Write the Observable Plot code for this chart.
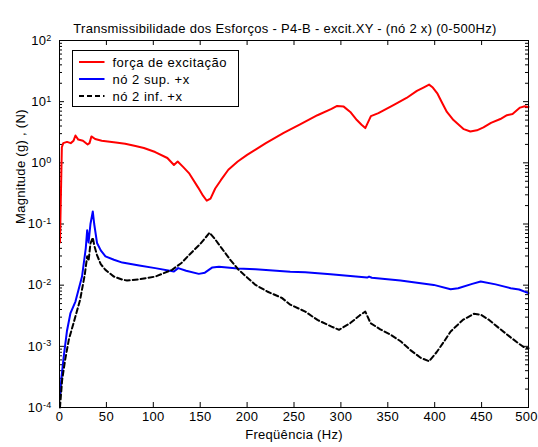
<!DOCTYPE html>
<html>
<head>
<meta charset="utf-8">
<script src="https://cdn.jsdelivr.net/npm/d3@7"></script>
<script src="https://cdn.jsdelivr.net/npm/@observablehq/plot@0.6"></script>
<style>
  html, body { margin: 0; padding: 0; background: #fff; }
  #chart svg { display: block; }
</style>
</head>
<body>
<div id="chart"></div>
<script>
// ---- data ----
const titleText = "Transmissibilidade dos Esforços - P4-B - excit.XY - (nó 2 x) (0-500Hz)";
const xLabel = "Freqüência (Hz)";
const yLabel = "Magnitude (g) , (N)";
const seriesNames = ["força de excitação", "nó 2 sup. +x", "nó 2 inf. +x"];
const xTickValues = [0, 50, 100, 150, 200, 250, 300, 350, 400, 450, 500];
const yExponents = [-4, -3, -2, -1, 0, 1, 2];

const freqRed = [0.5, 1.5, 2.5, 4, 8, 12, 15, 17, 20, 25, 30, 32, 34, 38, 45, 60, 70, 81, 90, 102, 115, 122, 126, 132, 138, 148, 153, 157, 161, 166, 172, 180, 190, 200, 209, 220, 239, 257, 275, 290, 296, 303, 310, 317, 322, 326, 328, 332, 340, 356, 370, 381, 388, 394, 398, 403, 408, 413, 420, 431, 438, 445, 452, 460, 470, 477, 483, 491, 496, 500];
const magRed = [0.05, 0.3, 1.8, 2.1, 2.2, 2.1, 2.3, 2.8, 2.4, 2.3, 2.0, 2.1, 2.7, 2.45, 2.3, 2.15, 2.05, 1.88, 1.75, 1.5, 1.2, 0.92, 1.05, 0.85, 0.68, 0.39, 0.29, 0.24, 0.26, 0.38, 0.52, 0.77, 1.05, 1.35, 1.65, 2.1, 3.1, 4.3, 6.0, 7.6, 8.5, 8.3, 6.8, 5.0, 4.2, 3.7, 4.3, 5.8, 6.5, 8.8, 11.5, 15.0, 17, 19, 17, 13.5, 9.5, 6.8, 5.0, 3.55, 3.25, 3.4, 3.8, 4.5, 5.2, 6.0, 6.3, 8.0, 8.4, 8.2];

const freqSup = [0.5, 2, 4.6, 8, 11.7, 17, 24, 28, 29.5, 31, 33, 35.5, 37, 40, 44, 49, 58, 67, 85, 102, 122, 126.5, 135, 148.5, 155, 163, 170, 190, 209, 246, 262, 289, 328, 330, 333, 363.5, 399, 417, 425, 440, 449, 465, 481, 490, 500];
const magSup = [1.5e-4, 3e-4, 7e-4, 1.8e-3, 3.5e-3, 5.4e-3, 0.0138, 0.04, 0.079, 0.05, 0.1, 0.16, 0.1, 0.049, 0.037, 0.0296, 0.026, 0.0234, 0.021, 0.019, 0.0167, 0.019, 0.0172, 0.0153, 0.016, 0.0195, 0.020, 0.0188, 0.0182, 0.0165, 0.0163, 0.0151, 0.0133, 0.0138, 0.0132, 0.0119, 0.0101, 0.0086, 0.0089, 0.0105, 0.0115, 0.0103, 0.0089, 0.0085, 0.0074];

const freqInf = [0.5, 2.8, 6, 10, 15, 22, 27, 29.5, 31, 33, 35.5, 37, 40, 44, 49, 58, 67, 72, 85, 102, 120, 130, 138, 150, 160, 166, 173, 182, 191, 209, 222, 237, 246, 262, 275, 290, 298, 310, 320, 326, 331.6, 342, 353, 364, 374, 385, 394, 402, 410, 417, 430, 441.7, 449, 458, 466.6, 481, 490, 496, 500];
const magInf = [1e-4, 2.8e-4, 6e-4, 1.3e-3, 2.4e-3, 5.8e-3, 0.015, 0.0296, 0.025, 0.048, 0.06, 0.045, 0.031, 0.022, 0.0178, 0.0138, 0.0123, 0.0119, 0.0125, 0.0138, 0.0178, 0.023, 0.031, 0.047, 0.072, 0.056, 0.040, 0.026, 0.0178, 0.0101, 0.0078, 0.0062, 0.0048, 0.0037, 0.0027, 0.0021, 0.00186, 0.0024, 0.0032, 0.0037, 0.0024, 0.0019, 0.00155, 0.0012, 0.00087, 0.00065, 0.00057, 0.0008, 0.0012, 0.00175, 0.0027, 0.0034, 0.0033, 0.0027, 0.0021, 0.0014, 0.0011, 0.00095, 0.00093];

// ---- build tables ----
const toRows = (fs, ms) => fs.map((f, i) => ({f, m: ms[i]}));
const red = toRows(freqRed, magRed);
const sup = toRows(freqSup, magSup);
const inf = toRows(freqInf, magInf);

const yMajor = yExponents.map(e => Math.pow(10, e));
const yMinor = [];
yExponents.slice(0, -1).forEach(e => { for (let k = 2; k <= 9; k++) yMinor.push(k * Math.pow(10, e)); });

const W = 538, H = 447;
const mT = 40, mB = 40, mL = 59, mR = 10;
const innerH = H - mT - mB, innerW = W - mL - mR;
const FONT = "'Liberation Sans', Arial, Helvetica, sans-serif";
const major = 5, minor = 3;
const xInner = xTickValues.slice(0, -1);
const xLast = xTickValues.slice(-1);

const svg = Plot.plot({
  width: W, height: H,
  marginTop: mT, marginBottom: mB, marginLeft: mL, marginRight: mR,
  style: {fontFamily: FONT, fontSize: "13px", background: "#fff", color: "#000", letterSpacing: "0.3px"},
  x: {domain: [0, 500], axis: null},
  y: {type: "log", domain: [1e-4, 1e2], axis: null},
  marks: [
    // inward ticks, bottom & top
    Plot.tickX(xTickValues, {x: d => d, insetTop: innerH - major, stroke: "#000"}),
    Plot.tickX(xTickValues, {x: d => d, insetBottom: innerH - major, stroke: "#000"}),
    // inward ticks, left & right
    Plot.tickY(yMajor, {y: d => d, insetRight: innerW - major, stroke: "#000"}),
    Plot.tickY(yMajor, {y: d => d, insetLeft: innerW - major, stroke: "#000"}),
    Plot.tickY(yMinor, {y: d => d, insetRight: innerW - minor, stroke: "#000"}),
    Plot.tickY(yMinor, {y: d => d, insetLeft: innerW - minor, stroke: "#000"}),
    // series
    Plot.line(red, {x: "f", y: "m", stroke: "#ff0000", strokeWidth: 2}),
    Plot.line(sup, {x: "f", y: "m", stroke: "#0000ff", strokeWidth: 2}),
    Plot.line(inf, {x: "f", y: "m", stroke: "#000", strokeWidth: 2, strokeDasharray: "5,3"}),
    Plot.frame({stroke: "#000"}),
    // tick labels
    Plot.text(xInner, {x: d => d, frameAnchor: "bottom", dy: 13, text: d => String(d), fill: "#000"}),
    Plot.text(xLast, {x: d => d, frameAnchor: "bottom", dy: 13, dx: -2, text: d => String(d), fill: "#000"}),
    Plot.text(yExponents, {y: d => Math.pow(10, d), frameAnchor: "left", dx: -8, textAnchor: "end", text: d => "10^" + d, fill: "#000"}),
    // axis titles and title
    Plot.text([xLabel], {text: d => d, frameAnchor: "bottom", dy: 31, fill: "#000"}),
    Plot.text([yLabel], {text: d => d, frameAnchor: "left", dx: -39, rotate: -90, fill: "#000"}),
    Plot.text([titleText], {text: d => d, frameAnchor: "top", dy: -17, dx: -9, fill: "#000"})
  ]
});

// superscript exponents on the y tick labels
d3.select(svg).selectAll("text").each(function() {
  const t = d3.select(this);
  const s = t.text();
  if (!/^10\^-?\d$/.test(s)) return;
  const exp = s.split("^")[1];
  t.text(null);
  t.append("tspan").text("10");
  t.append("tspan").attr("dy", "-0.45em").attr("font-size", "9px").text(exp);
});

// legend box
const lg = d3.select(svg).append("g").attr("font-family", FONT).attr("font-size", "13px").attr("text-anchor", "start");
const lx = 72.5, ly = 50.5, lw = 166, lh = 56;
lg.append("rect").attr("x", lx).attr("y", ly).attr("width", lw).attr("height", lh)
  .attr("fill", "#fff").attr("stroke", "#000");
const legendStyles = [
  {stroke: "#ff0000", dash: null},
  {stroke: "#0000ff", dash: null},
  {stroke: "#000", dash: "5,3"}
];
seriesNames.forEach((name, i) => {
  const yy = ly + 11.5 + i * 17;
  lg.append("line").attr("x1", lx + 6.5).attr("x2", lx + 32).attr("y1", yy).attr("y2", yy)
    .attr("stroke", legendStyles[i].stroke).attr("stroke-width", 2)
    .attr("stroke-dasharray", legendStyles[i].dash);
  lg.append("text").attr("x", lx + 40).attr("y", yy).attr("dy", "0.35em")
    .attr("letter-spacing", "0.5px").attr("fill", "#000").text(name);
});

document.getElementById("chart").appendChild(svg);
</script>
</body>
</html>
